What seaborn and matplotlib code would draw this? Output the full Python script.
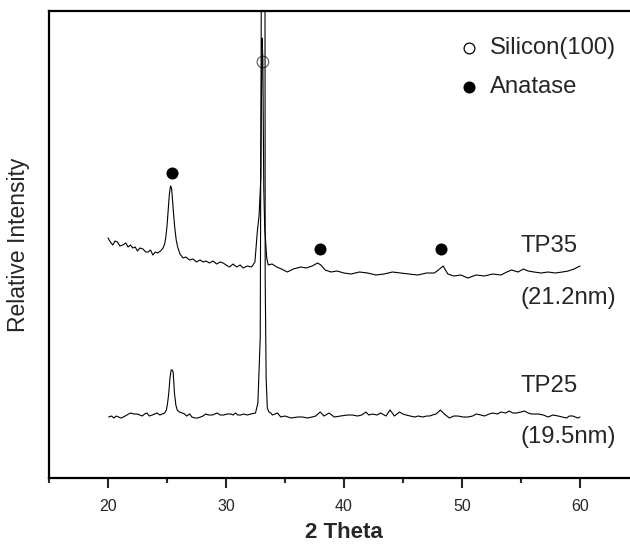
import pandas as pd
import matplotlib
matplotlib.use("Agg")
import matplotlib.pyplot as plt
import seaborn as sns
from matplotlib.ticker import FixedLocator, MultipleLocator, NullLocator


# TP35 trace (2 theta, intensity in arbitrary units incl. vertical offset)
tp35_x = [20.0, 20.2, 20.4, 20.6, 20.8, 21.0, 21.26, 21.5, 21.7, 21.9, 22.1, 22.3, 22.5, 22.7,
          22.96, 23.2, 23.4, 23.6, 23.8, 24.0, 24.2, 24.45, 24.66, 24.8, 24.9, 25.0, 25.1, 25.2,
          25.3, 25.38, 25.45, 25.55, 25.65, 25.78, 25.9, 26.1, 26.36, 26.6, 26.9, 27.2, 27.5,
          27.8, 28.06, 28.3, 28.6, 28.9, 29.2, 29.5, 29.76, 30.0, 30.3, 30.6, 30.9, 31.2, 31.45,
          31.8, 32.17, 32.45, 32.65, 32.8, 32.95, 32.98, 33.05, 33.12, 33.2, 33.28, 33.45, 33.58,
          33.9, 34.3, 34.7, 35.2, 35.7, 36.34, 36.8, 37.3, 37.76, 38.04, 38.4, 38.9, 39.4, 40.0,
          40.6, 41.3, 42.0, 42.7, 43.4, 44.1, 44.8, 45.5, 46.25, 47.0, 47.66, 48.1, 48.4, 48.8,
          49.3, 49.9, 50.5, 51.2, 51.9, 52.6, 53.3, 53.8, 54.2, 54.75, 55.2, 55.6, 56.1, 56.7,
          57.3, 57.9, 58.5, 59.0, 59.5, 60.0]
tp35_y = [240, 236, 233, 237, 236, 232, 233, 235, 231, 233, 230, 231, 227, 230,
          229, 226, 226, 228, 223, 226, 225, 227, 230, 234, 241, 252, 268, 284,
          292, 290, 281, 265, 251, 238, 231, 224, 220, 221, 218, 219, 216,
          218, 216, 217, 215, 217, 214, 216, 215, 213, 211, 214, 211, 213, 210,
          212, 211, 216, 246, 262, 300, 350, 440, 420, 290, 250, 220, 213,
          214, 211, 209, 206, 209, 211, 210, 212, 215, 213, 208, 206, 207, 205,
          204, 206, 205, 203, 204, 206, 205, 204, 203, 205, 205, 209, 212, 204,
          202, 203, 200, 203, 202, 204, 203, 206, 208, 206, 209, 207, 206, 205,
          206, 205, 206, 207, 209, 212]

# TP25 trace
tp25_x = [20.05, 20.3, 20.5, 20.7, 20.9, 21.1, 21.3, 21.6, 21.9, 22.2, 22.46, 22.7, 22.9, 23.1,
          23.3, 23.5, 23.74, 23.95, 24.16, 24.4, 24.6, 24.8, 24.95, 25.05, 25.15, 25.25, 25.35,
          25.45, 25.52, 25.58, 25.63, 25.75, 25.86, 26.05, 26.3, 26.5, 26.65, 26.93, 27.1, 27.4,
          27.6, 27.84, 28.05, 28.27, 28.55, 28.84, 29.05, 29.26, 29.5, 29.8, 30.1, 30.4, 30.6,
          30.8, 31.0, 31.24, 31.5, 31.8, 32.1, 32.5, 32.7, 32.9, 33.02, 33.08, 33.28, 33.32, 33.4,
          33.5, 33.64, 33.8, 33.93, 34.36, 34.64, 35.0, 35.5, 36.06, 36.5, 36.9, 37.3, 37.6,
          37.98, 38.3, 38.74, 39.17, 39.7, 40.3, 40.7, 41.15, 41.5, 41.86, 42.1, 42.4, 42.8,
          43.1, 43.56, 43.9, 44.27, 44.7, 45.0, 45.26, 45.6, 45.97, 46.3, 46.68, 47.0, 47.24,
          47.5, 47.8, 48.17, 48.5, 48.94, 49.3, 49.65, 50.1, 50.5, 50.9, 51.2, 51.6, 51.9, 52.3,
          52.6, 53.0, 53.3, 53.7, 54.0, 54.3, 54.6, 55.0, 55.3, 55.6, 55.9, 56.45, 56.9, 57.3,
          57.7, 58.15, 58.5, 58.85, 59.1, 59.4, 59.6, 59.8, 60.0]
tp25_y = [61, 62, 60, 62, 61, 60, 61, 63, 65, 64, 64, 63, 62, 64,
          65, 62, 63, 64, 65, 63, 64, 65, 68, 75, 85, 100, 108,
          108, 106, 95, 85, 73, 68, 66, 65, 64, 62, 64, 61, 60,
          60, 61, 62, 64, 63, 63, 64, 65, 63, 63, 64, 64, 63,
          65, 63, 63, 64, 63, 64, 65, 75, 140, 600, 900, 900, 200, 100,
          70, 66, 65, 63, 65, 61, 62, 60, 61, 61, 60, 61, 62,
          66, 62, 65, 61, 62, 63, 63, 62, 63, 66, 63, 64, 63,
          65, 62, 68, 62, 66, 64, 63, 62, 61, 62, 61, 62, 62,
          63, 64, 68, 64, 60, 62, 62, 61, 61, 62, 64, 63, 62, 64,
          65, 64, 66, 65, 67, 65, 65, 66, 67, 65, 64, 64, 63, 61,
          63, 62, 61, 60, 62, 62, 61, 60, 61]

# peak markers
anatase_x = [25.4, 38.0, 48.2]
anatase_y = [305, 229, 229]
silicon_x = [33.13]
silicon_y = [416]

labels = ["TP35", "(21.2nm)", "TP25", "(19.5nm)"]
label_y = [232, 180, 92, 41]

tp35 = pd.DataFrame({"two_theta": tp35_x, "intensity": tp35_y})
tp25 = pd.DataFrame({"two_theta": tp25_x, "intensity": tp25_y})

sns.set_style("white")
plt.rcParams["font.family"] = ["Liberation Sans", "DejaVu Sans"]

fig = plt.figure(figsize=(6.3, 5.44), dpi=100)
ax = fig.add_axes([0.0778, 0.1213, 0.9365, 0.8585])

for df in (tp35, tp25):
    sns.lineplot(data=df, x="two_theta", y="intensity", ax=ax,
                 color="black", linewidth=0.8, estimator=None, sort=False)

sns.scatterplot(x=anatase_x, y=anatase_y, ax=ax, s=75, color="black",
                edgecolor="black", linewidth=0, zorder=4)
sns.scatterplot(x=silicon_x, y=silicon_y, ax=ax, s=70, facecolor="none",
                edgecolor="#555555", linewidth=0.8, zorder=1)

# legend drawn by hand like the original
ax.scatter([50.56], [430], s=60, facecolor="white", edgecolor="black", linewidth=0.9)
ax.scatter([50.56], [391], s=75, color="black", linewidth=0)
ax.text(52.37, 430, "Silicon(100)", fontsize=17.2, va="center", ha="left")
ax.text(52.37, 391, "Anatase", fontsize=17.2, va="center", ha="left")

for lab, yy in zip(labels, label_y):
    ax.text(54.95, yy, lab, fontsize=17.2, va="center", ha="left")

ax.set_xlim(15, 65)
ax.set_ylim(0, 467)
ax.xaxis.set_major_locator(FixedLocator([20, 30, 40, 50, 60]))
ax.xaxis.set_minor_locator(MultipleLocator(5))
ax.yaxis.set_major_locator(NullLocator())
ax.tick_params(axis="x", which="major", direction="out", length=7, width=1.5,
               bottom=True, pad=8)
ax.tick_params(axis="x", which="minor", direction="out", length=3.5, width=1.5,
               bottom=True)
for t in ax.get_xticklabels():
    t.set_fontsize(11.5)

for sp in ax.spines.values():
    sp.set_linewidth(1.6)
    sp.set_color("black")

ax.set_xlabel("2 Theta", fontsize=16, fontweight="bold", labelpad=6)
ax.set_ylabel("Relative Intensity", fontsize=16.5, labelpad=14)

fig.savefig("out.png", dpi=100)
